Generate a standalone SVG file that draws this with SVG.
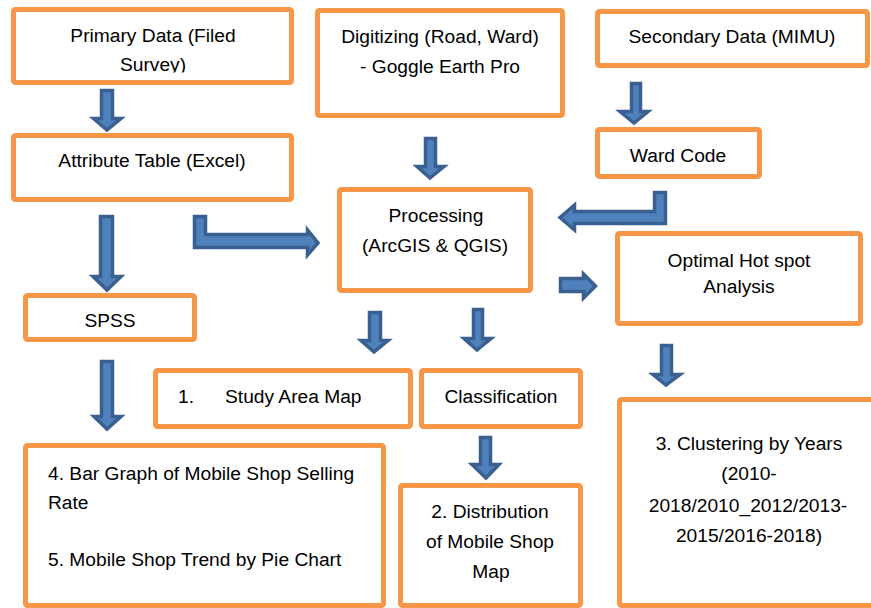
<svg xmlns="http://www.w3.org/2000/svg" width="871" height="608" viewBox="0 0 871 608">
<style>
  .box { fill: #ffffff; stroke: #F79646; stroke-width: 5; }
  .arr { fill: #4F81BD; stroke: #3A5F91; stroke-width: 3.5; stroke-linejoin: miter; }
  text { font-family: "Liberation Sans", Arial, sans-serif; font-size: 19.2px; fill: #000000; }
  .c { text-anchor: middle; }
</style>
<defs>
  <clipPath id="clipPrimary"><rect x="16" y="12" width="273" height="60.5"/></clipPath>
</defs>
<rect width="871" height="608" fill="#ffffff"/>
<g id="connectors">
  <path class="arr" d="M101.5 90.5 H112.5 V118.5 H121 L107 130 L93.5 118.5 H101.5 Z"/>
  <path class="arr" d="M425.5 138.5 H435.5 V166.5 H444 L430 178 L417 166.5 H425.5 Z"/>
  <path class="arr" d="M631.5 83.5 H640.5 V111.5 H648 L634 123 L620 111.5 H631.5 Z"/>
  <path class="arr" d="M100.5 216.5 H112.5 V276.5 H121 L107 290 L93 276.5 H100.5 Z"/>
  <path class="arr" d="M101.5 361.5 H112.5 V416.5 H121 L107 429 L94 416.5 H101.5 Z"/>
  <path class="arr" d="M369.5 312.5 H380.5 V340.5 H388 L374 352 L361 340.5 H369.5 Z"/>
  <path class="arr" d="M473.5 309.5 H482.5 V338.5 H491 L477 350 L464 338.5 H473.5 Z"/>
  <path class="arr" d="M480.5 437.5 H490.5 V464.5 H499 L486 478 L472 464.5 H480.5 Z"/>
  <path class="arr" d="M661.5 345.5 H671.5 V374.5 H680 L666 385 L653 374.5 H661.5 Z"/>
  <path class="arr" d="M560.5 278.5 H583.5 V274 L595.5 286 L583.5 298 V291.5 H560.5 Z"/>
  <path class="arr" d="M194.5 216.5 H205.5 V234.5 H307.5 V230 L318 243 L307.5 255 V247.5 H194.5 Z"/>
  <path class="arr" d="M665.5 192.5 V223.5 H574.5 V230 L560 217.5 L574.5 205 V211.5 H654.5 V192.5 Z"/>
</g>
<g id="primary">
  <rect class="box" x="13.5" y="9.5" width="278" height="73" rx="2"/>
  <text class="c" x="153" y="42">Primary Data (Filed</text>
  <text class="c" x="153" y="71" clip-path="url(#clipPrimary)">Survey)</text>
</g>
<g id="digitizing">
  <rect class="box" x="317.5" y="10.5" width="245" height="105" rx="2"/>
  <text class="c" x="440" y="43">Digitizing (Road, Ward)</text>
  <text class="c" x="440" y="73">- Goggle Earth Pro</text>
</g>
<g id="secondary">
  <rect class="box" x="597.5" y="11.5" width="270" height="54" rx="2"/>
  <text class="c" x="732" y="43">Secondary Data (MIMU)</text>
</g>
<g id="attribute">
  <rect class="box" x="13.5" y="135.5" width="278" height="64" rx="2"/>
  <text class="c" x="152" y="167">Attribute Table (Excel)</text>
</g>
<g id="ward">
  <rect class="box" x="597.5" y="129.5" width="162" height="47" rx="2"/>
  <text class="c" x="678" y="162">Ward Code</text>
</g>
<g id="processing">
  <rect class="box" x="339.5" y="189.5" width="191" height="101" rx="2"/>
  <text class="c" x="436" y="222">Processing</text>
  <text class="c" x="435" y="252">(ArcGIS &amp; QGIS)</text>
</g>
<g id="optimal">
  <rect class="box" x="617.5" y="233.5" width="243" height="90" rx="2"/>
  <text class="c" x="739" y="267">Optimal Hot spot</text>
  <text class="c" x="739" y="293">Analysis</text>
</g>
<g id="spss">
  <rect class="box" x="25.5" y="295.5" width="169" height="44" rx="2"/>
  <text class="c" x="110" y="327">SPSS</text>
</g>
<g id="study">
  <rect class="box" x="155.5" y="370.5" width="255" height="56" rx="2"/>
  <text x="178" y="403">1.</text>
  <text x="225" y="403">Study Area Map</text>
</g>
<g id="classification">
  <rect class="box" x="421.5" y="370.5" width="159" height="56" rx="2"/>
  <text class="c" x="501" y="403">Classification</text>
</g>
<g id="bar">
  <rect class="box" x="25.5" y="445.5" width="358" height="160" rx="2"/>
  <text x="48" y="480">4. Bar Graph of Mobile Shop Selling</text>
  <text x="48" y="509">Rate</text>
  <text x="48" y="566">5. Mobile Shop Trend by Pie Chart</text>
</g>
<g id="distribution">
  <rect class="box" x="400.5" y="485.5" width="180" height="120" rx="2"/>
  <text class="c" x="490" y="518">2. Distribution</text>
  <text class="c" x="490" y="548">of Mobile Shop</text>
  <text class="c" x="491" y="578">Map</text>
</g>
<g id="clustering">
  <rect class="box" x="619.5" y="399.5" width="270" height="206" rx="2"/>
  <text class="c" x="749" y="450">3. Clustering by Years</text>
  <text class="c" x="749" y="480">(2010-</text>
  <text class="c" x="748" y="512">2018/2010_2012/2013-</text>
  <text class="c" x="749" y="542">2015/2016-2018)</text>
</g>
</svg>
